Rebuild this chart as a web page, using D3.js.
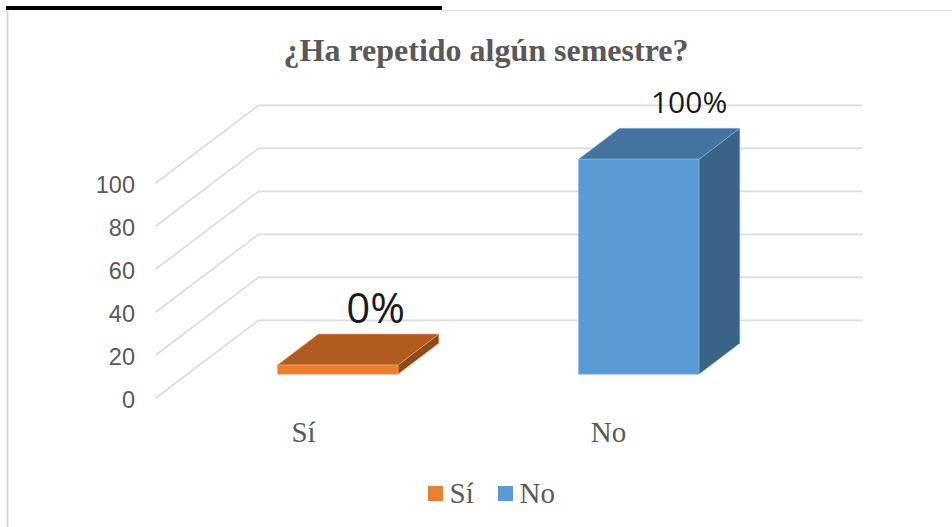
<!DOCTYPE html>
<html>
<head>
<meta charset="utf-8">
<script src="https://cdn.jsdelivr.net/npm/d3@7"></script>
<style>
    html, body { margin: 0; padding: 0; background: #fff; overflow: hidden; }
    svg { display: block; }
</style>
</head>
<body>
<div id="chart"></div>
<script>
// Values
const titleText = "¿Ha repetido algún semestre?"
const categories = ["Sí", "No"]
const barValues = [4.3, 100]      // the Sí bar has a small drawn height although its label says 0%
const barLabels = ["0%", "100%"]
const yTicks = [0, 20, 40, 60, 80, 100]

const width = 952
const height = 527

// Oblique projection of the chart box
const floorLeft = 155.5
const floorWidth = 604
const depthX = 103
const depthY = 78
const barFrontDepth = 0.308
const barBackDepth = 0.705

const serif = "'Liberation Serif', serif"
const sans = "'Liberation Sans', sans-serif"
const textGrey = "#595959"

const barColours = [
    {front: "#ED7D31", top: "#B25B20", side: "#8F4A1A", edge: "#F2A36E"},
    {front: "#5B9BD5", top: "#4674A1", side: "#396387", edge: "#85B5E0"}
]

const labelStyle = [
    {size: 42, dx: -3, dy: -11.5},
    {size: 30, dx: 9.5, dy: -15.5}
]
const categoryNudge = [-2.5, 1.5]

let yScale = d3.scaleLinear()
    .domain([0, 100])
    .range([398.3, 183.3])

let xScale = d3.scaleBand()
    .domain(categories)
    .range([floorLeft, floorLeft + 602])
    .paddingInner(0.6)
    .paddingOuter(0.3)

// value + depth (0 front, 1 back wall) to screen position
const project = (x, value, depth) => [x + depthX * depth, yScale(value) - depthY * depth]

let svg = d3.select("#chart").append("svg")
    .attr("width", width)
    .attr("height", height)

svg.append("rect")
    .attr("width", width)
    .attr("height", height)
    .attr("fill", "#fff")

// Frame of the pasted chart
svg.append("line")
    .attr("x1", 7.5).attr("y1", 10)
    .attr("x2", 7.5).attr("y2", height)
    .attr("stroke", "#d4d4d4")
    .attr("stroke-width", 1.8)

svg.append("line")
    .attr("x1", 442).attr("y1", 10.5)
    .attr("x2", width).attr("y2", 10.5)
    .attr("stroke", "#dfdfdf")
    .attr("stroke-width", 1)

svg.append("rect")
    .attr("x", 6).attr("y", 6)
    .attr("width", 436).attr("height", 4)
    .attr("fill", "#000")

// Title
svg.append("text")
    .attr("x", 486)
    .attr("y", 61)
    .attr("text-anchor", "middle")
    .style("font-family", serif)
    .style("font-weight", "bold")
    .style("font-size", "32px")
    .style("fill", textGrey)
    .text(titleText)

// Gridlines: side wall then back wall
let line = d3.line()

svg.append("g")
    .attr("id", "grid")
    .selectAll("path")
    .data(yTicks)
    .enter()
    .append("path")
    .attr("d", d => line([
        project(floorLeft, d, 0),
        project(floorLeft, d, 1),
        project(floorLeft + floorWidth, d, 1)
    ]))
    .attr("fill", "none")
    .attr("stroke", "#dcdcdc")
    .attr("stroke-width", 1.7)

// Y axis
let yAxis = d3.axisLeft(yScale)
    .tickValues(yTicks)
    .tickSize(0)
    .tickPadding(0)

let yAxisG = svg.append("g")
    .attr("transform", "translate(135, 1.5)")
    .call(yAxis)

yAxisG.select(".domain").remove()
yAxisG.selectAll("text")
    .style("font-family", sans)
    .style("font-size", "23.5px")
    .style("fill", textGrey)

// Category axis
let xAxis = d3.axisBottom(xScale)
    .tickSize(0)
    .tickPadding(0)

let xAxisG = svg.append("g")
    .attr("transform", "translate(0, 421)")
    .call(xAxis)

xAxisG.select(".domain").remove()
xAxisG.selectAll("text")
    .attr("dx", (d, i) => categoryNudge[i])
    .style("font-family", serif)
    .style("font-size", "29px")
    .style("fill", textGrey)

// 3D bars
let bars = svg.append("g")
    .attr("id", "bars")
    .selectAll("g")
    .data(categories)
    .enter()
    .append("g")

const barFaces = (d, i) => {
    let x0 = xScale(d)
    let x1 = x0 + xScale.bandwidth()
    let v = barValues[i]
    return [
        {
            fill: barColours[i].side,
            edge: barColours[i].edge,
            points: [project(x1, 0, barFrontDepth), project(x1, 0, barBackDepth), project(x1, v, barBackDepth), project(x1, v, barFrontDepth)]
        },
        {
            fill: barColours[i].top,
            edge: barColours[i].edge,
            points: [project(x0, v, barFrontDepth), project(x0, v, barBackDepth), project(x1, v, barBackDepth), project(x1, v, barFrontDepth)]
        },
        {
            fill: barColours[i].front,
            edge: barColours[i].edge,
            points: [project(x0, 0, barFrontDepth), project(x0, v, barFrontDepth), project(x1, v, barFrontDepth), project(x1, 0, barFrontDepth)]
        }
    ]
}

bars.selectAll("path")
    .data((d, i) => barFaces(d, i))
    .enter()
    .append("path")
    .attr("d", d => line(d.points) + "Z")
    .attr("fill", d => d.fill)
    .attr("stroke", d => d.edge)
    .attr("stroke-width", 0.6)
    .attr("stroke-linejoin", "round")

// Data labels, anchored on the back top edge of each bar
svg.append("g")
    .attr("id", "barLabels")
    .selectAll("text")
    .data(categories)
    .enter()
    .append("text")
    .attr("x", (d, i) => project(xScale(d) + xScale.bandwidth() / 2, barValues[i], barBackDepth)[0] + labelStyle[i].dx)
    .attr("y", (d, i) => project(xScale(d), barValues[i], barBackDepth)[1] + labelStyle[i].dy)
    .attr("text-anchor", "middle")
    .style("font-family", "'Open Sans', sans-serif")
    .style("font-size", (d, i) => labelStyle[i].size + "px")
    .style("fill", "#1a1a1a")
    .text((d, i) => barLabels[i])

// Legend
let legendX = d3.scaleOrdinal()
    .domain(categories)
    .range([428, 498])

let legend = svg.append("g")
    .attr("id", "legend")
    .selectAll("g")
    .data(categories)
    .enter()
    .append("g")
    .attr("transform", d => "translate(" + legendX(d) + ", 486)")

legend.append("rect")
    .attr("width", 15)
    .attr("height", 15)
    .attr("fill", (d, i) => barColours[i].front)

legend.append("text")
    .attr("x", 21.5)
    .attr("y", 16.5)
    .style("font-family", serif)
    .style("font-size", "29px")
    .style("fill", textGrey)
    .text(d => d)
</script>
</body>
</html>
